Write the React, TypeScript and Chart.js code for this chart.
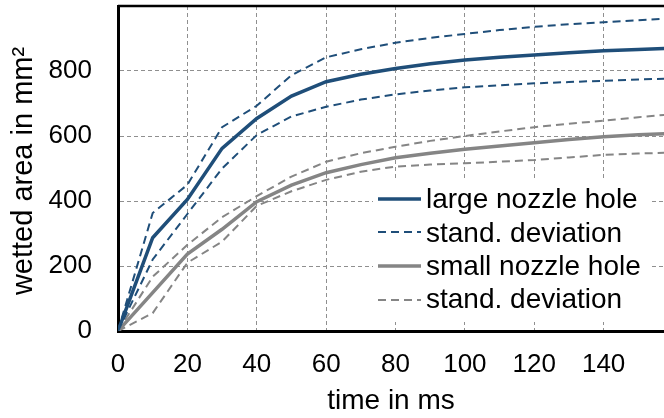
import React, { useEffect, useRef } from "react";
import { Chart, registerables } from "chart.js";

Chart.register(...registerables);

// time in ms
const timeMs = [0, 10, 20, 30, 40, 50, 60, 70, 80, 90, 100, 110, 120, 130, 140, 150, 160];
// wetted area in mm²
const largeMean = [0, 287, 405, 562, 654, 723, 767, 790, 808, 822, 834, 842, 849, 856, 862, 866, 870];
const largeUpper = [0, 363, 450, 627, 693, 787, 842, 867, 887, 902, 914, 926, 936, 944, 950, 956, 962];
const largeLower = [0, 220, 360, 500, 603, 660, 690, 712, 728, 740, 750, 756, 762, 766, 770, 774, 777];
const smallMean = [0, 118, 237, 313, 398, 449, 487, 512, 533, 547, 559, 569, 579, 589, 598, 604, 608];
const smallUpper = [0, 167, 265, 350, 415, 475, 521, 547, 567, 585, 600, 614, 627, 638, 647, 658, 667];
const smallLower = [0, 55, 210, 275, 385, 430, 465, 490, 506, 512, 516, 521, 526, 534, 542, 546, 549];

const xTickValues = [0, 20, 40, 60, 80, 100, 120, 140];
const yTickValues = [0, 200, 400, 600, 800];

const seriesNames = ["large nozzle hole", "stand. deviation", "small nozzle hole", "stand. deviation"];
const xTitle = "time in ms";
const yTitle = "wetted area in mm²";

const BLUE = "#1f4e79";
const GRAY = "#858585";
const GRID = "#8f8f8f";
const FONT = "'Liberation Sans', Arial, sans-serif";

const toPoints = (ys: number[]) => timeMs.map((t, i) => ({ x: t, y: ys[i] }));

const frameAndLegend = {
  id: "frameAndLegend",
  afterDatasetsDraw(chart: any) {
    const { ctx, chartArea } = chart;
    ctx.save();
    ctx.strokeStyle = "#000";
    ctx.lineWidth = 2.5;
    ctx.beginPath();
    ctx.moveTo(chartArea.left, chartArea.top);
    ctx.lineTo(chartArea.right, chartArea.top);
    ctx.stroke();

    const bx = 373, by = 180, bw = 277, bh = 142;
    ctx.fillStyle = "#fff";
    ctx.fillRect(bx, by, bw, bh);
    const ds = chart.data.datasets
      .filter((d: any) => d.legendOrder >= 0)
      .sort((a: any, b: any) => a.legendOrder - b.legendOrder);
    const rowY = [199, 232, 266, 300];
    const baseY = [208, 242, 275, 308];
    ctx.font = `28px ${FONT}`;
    ctx.textBaseline = "alphabetic";
    ctx.textAlign = "left";
    ds.forEach((d: any, i: number) => {
      ctx.save();
      ctx.strokeStyle = d.borderColor;
      ctx.lineWidth = d.borderWidth;
      ctx.setLineDash(d.borderDash || []);
      ctx.beginPath();
      ctx.moveTo(378, rowY[i]);
      ctx.lineTo(421, rowY[i]);
      ctx.stroke();
      ctx.restore();
      ctx.fillStyle = "#000";
      ctx.fillText(d.label, 426, baseY[i]);
    });

    // y axis title
    ctx.save();
    ctx.translate(32, 171);
    ctx.rotate(-Math.PI / 2);
    ctx.font = `29px ${FONT}`;
    ctx.fillStyle = "#000";
    ctx.textAlign = "center";
    ctx.textBaseline = "alphabetic";
    ctx.fillText(yTitle, 0, 0);
    ctx.restore();
    ctx.restore();
  },
};

export default function App() {
  const ref = useRef<HTMLCanvasElement | null>(null);
  useEffect(() => {
    document.body.style.margin = "0";
    const canvas = ref.current;
    if (!canvas) return;
    const dashed = [8, 5];
    const datasets = [
      { label: seriesNames[1], data: toPoints(largeUpper), borderColor: BLUE, borderWidth: 2, borderDash: dashed, legendOrder: 1 },
      { label: seriesNames[1], data: toPoints(largeLower), borderColor: BLUE, borderWidth: 2, borderDash: dashed, legendOrder: -1 },
      { label: seriesNames[3], data: toPoints(smallUpper), borderColor: GRAY, borderWidth: 2, borderDash: dashed, legendOrder: 3 },
      { label: seriesNames[3], data: toPoints(smallLower), borderColor: GRAY, borderWidth: 2, borderDash: dashed, legendOrder: -1 },
      { label: seriesNames[0], data: toPoints(largeMean), borderColor: BLUE, borderWidth: 3.5, legendOrder: 0 },
      { label: seriesNames[2], data: toPoints(smallMean), borderColor: GRAY, borderWidth: 3.5, legendOrder: 2 },
    ].map((d: any) => ({ ...d, pointRadius: 0, fill: false, tension: 0 }));
    const chart = new Chart(canvas, {
      type: "line",
      data: { datasets: datasets as any },
      options: {
        animation: false,
        responsive: true,
        maintainAspectRatio: false,
        layout: { padding: { top: 6, right: 0, left: 0, bottom: 0 } },
        plugins: { legend: { display: false }, tooltip: { enabled: false } },
        scales: {
          x: {
            type: "linear",
            min: 0,
            max: 157.4,
            afterBuildTicks: (s: any) => { s.ticks = xTickValues.map((v) => ({ value: v })); },
            afterFit: (s: any) => { s.height = 87; s.paddingLeft = 0; s.paddingRight = 0; },
            ticks: { color: "#000", font: { family: FONT, size: 26 }, padding: 18, maxRotation: 0 },
            grid: { color: GRID, lineWidth: 1, drawTicks: false },
            border: { display: true, color: "#000", width: 3, dash: [4, 3] },
            title: { display: true, text: xTitle, color: "#000", font: { family: FONT, size: 28 }, padding: { top: 0, bottom: 0 } },
          },
          y: {
            type: "linear",
            min: 0,
            max: 1000,
            afterBuildTicks: (s: any) => { s.ticks = yTickValues.map((v) => ({ value: v })); },
            afterFit: (s: any) => { s.width = 118; s.paddingTop = 0; s.paddingBottom = 0; },
            ticks: { color: "#000", font: { family: FONT, size: 26 }, padding: 26 },
            grid: { color: GRID, lineWidth: 1, drawTicks: false },
            border: { display: true, color: "#000", width: 3, dash: [4, 3] },
            title: { display: false },
          },
        },
      },
      plugins: [frameAndLegend],
    } as any);
    return () => chart.destroy();
  }, []);
  return (
    <div style={{ width: 664, height: 418, position: "relative" }}>
      <canvas ref={ref} />
    </div>
  );
}
